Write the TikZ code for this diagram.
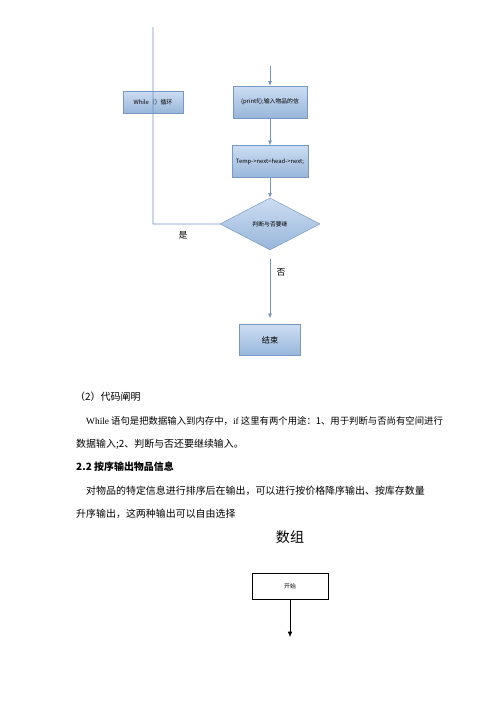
\documentclass[tikz,border=0pt]{standalone}
\usepackage{fontspec}
\setmainfont{Liberation Serif}
\newfontfamily\cjk{Noto Sans CJK SC}
\usetikzlibrary{shapes.geometric, arrows.meta, positioning}
\definecolor{boxtop}{RGB}{204,221,242}
\definecolor{boxbot}{RGB}{152,182,218}
\definecolor{boxline}{RGB}{120,152,196}
\definecolor{flowline}{RGB}{112,146,198}
\tikzstyle{process} = [rectangle, 
minimum width=2.22cm, 
minimum height=0.96cm, 
text centered, 
draw=boxline, 
top color=boxtop, bottom color=boxbot, 
font=\cjk\fontsize{5}{6}\selectfont]
\tikzstyle{decision} = [diamond, 
minimum width=3cm, 
minimum height=1.56cm, 
inner sep=0pt, 
text centered, 
draw=boxline, 
top color=boxtop, bottom color=boxbot, 
font=\cjk\fontsize{5}{6}\selectfont]
\tikzstyle{startbox} = [rectangle, 
minimum width=2.28cm, 
minimum height=0.78cm, 
draw=black, line width=0.4pt, 
font=\cjk\fontsize{5}{6}\selectfont]
\tikzstyle{arrow} = [line width=0.6pt,-{Latex[length=1.4mm,width=1.2mm]},draw=flowline]
\tikzstyle{para} = [anchor=west, inner sep=0pt, font=\cjk\fontsize{8.5}{10}\selectfont]

\begin{document}
\begin{tikzpicture}
        \useasboundingbox (0,0) rectangle (15,-21.21);

        % Diagrama de flujo
        \coordinate (in) at (8.1,-1.98);
        \node [process] (printf) at (8.1,-3.06) {(printf();输入物品的信};
        \node [process, below=0.81cm of printf] (temp) {Temp->next=head->next;};
        \node [decision, below=0.6cm of temp] (judge) {判断与否要继};
        \node [process, minimum width=1.83cm, minimum height=0.93cm, font=\cjk\fontsize{7}{8}\selectfont, below=2.22cm of judge] (stop) {结束};
        \node [process, minimum width=1.8cm, minimum height=0.66cm, font=\cjk\fontsize{5}{6}\selectfont] (loop) at (4.59,-3.06) {While（）循环};
        \coordinate (top) at (4.59,-0.81);

        \draw [arrow] (in) -- (printf.north);
        \draw [arrow] (printf.south) -- (temp.north);
        \draw [arrow] (temp.south) -- (judge.north);
        \draw [arrow, shorten <=0.27cm, shorten >=0.18cm] (judge.south) -- node [right=2pt, pos=0.3, font=\cjk\fontsize{7.5}{9}\selectfont, text=black] {否} (stop.north);
        \draw [line width=0.6pt, draw=flowline] (judge.west) -- node [below=3pt, pos=0.55, font=\cjk\fontsize{7.5}{9}\selectfont, text=black] {是} (4.59,-6.72) -- (top);

        % Texto
        \node [para] (t1) at (2.25,-11.91) {（2）代码阐明};
        \node [para, font=\cjk\fontsize{8}{10}\selectfont] (t2) at (2.58,-12.63) {{\rmfamily While} 语句是把数据输入到内存中，{\rmfamily if} 这里有两个用途：1、用于判断与否尚有空间进行};
        \node [para] (t3) at (2.28,-13.32) {数据输入;2、判断与否还要继续输入。};
        \node [para, font=\cjk\bfseries\fontsize{8.5}{10}\selectfont] (t4) at (2.28,-14.01) {2.2 按序输出物品信息};
        \node [para] (t5) at (2.58,-14.73) {对物品的特定信息进行排序后在输出，可以进行按价格降序输出、按库存数量};
        \node [para] (t6) at (2.28,-15.42) {升序输出，这两种输出可以自由选择};

        % Segundo diagrama
        \node [font=\cjk\fontsize{12}{14}\selectfont] (title) at (8.7,-16.11) {数组};
        \node [startbox] (start) at (8.7,-17.58) {开始};
        \coordinate (next) at (8.7,-19.11);
        \draw [line width=0.6pt, -{Latex[length=1.6mm,width=1.4mm]}] (start.south) -- (next);
    \end{tikzpicture}
\end{document}
